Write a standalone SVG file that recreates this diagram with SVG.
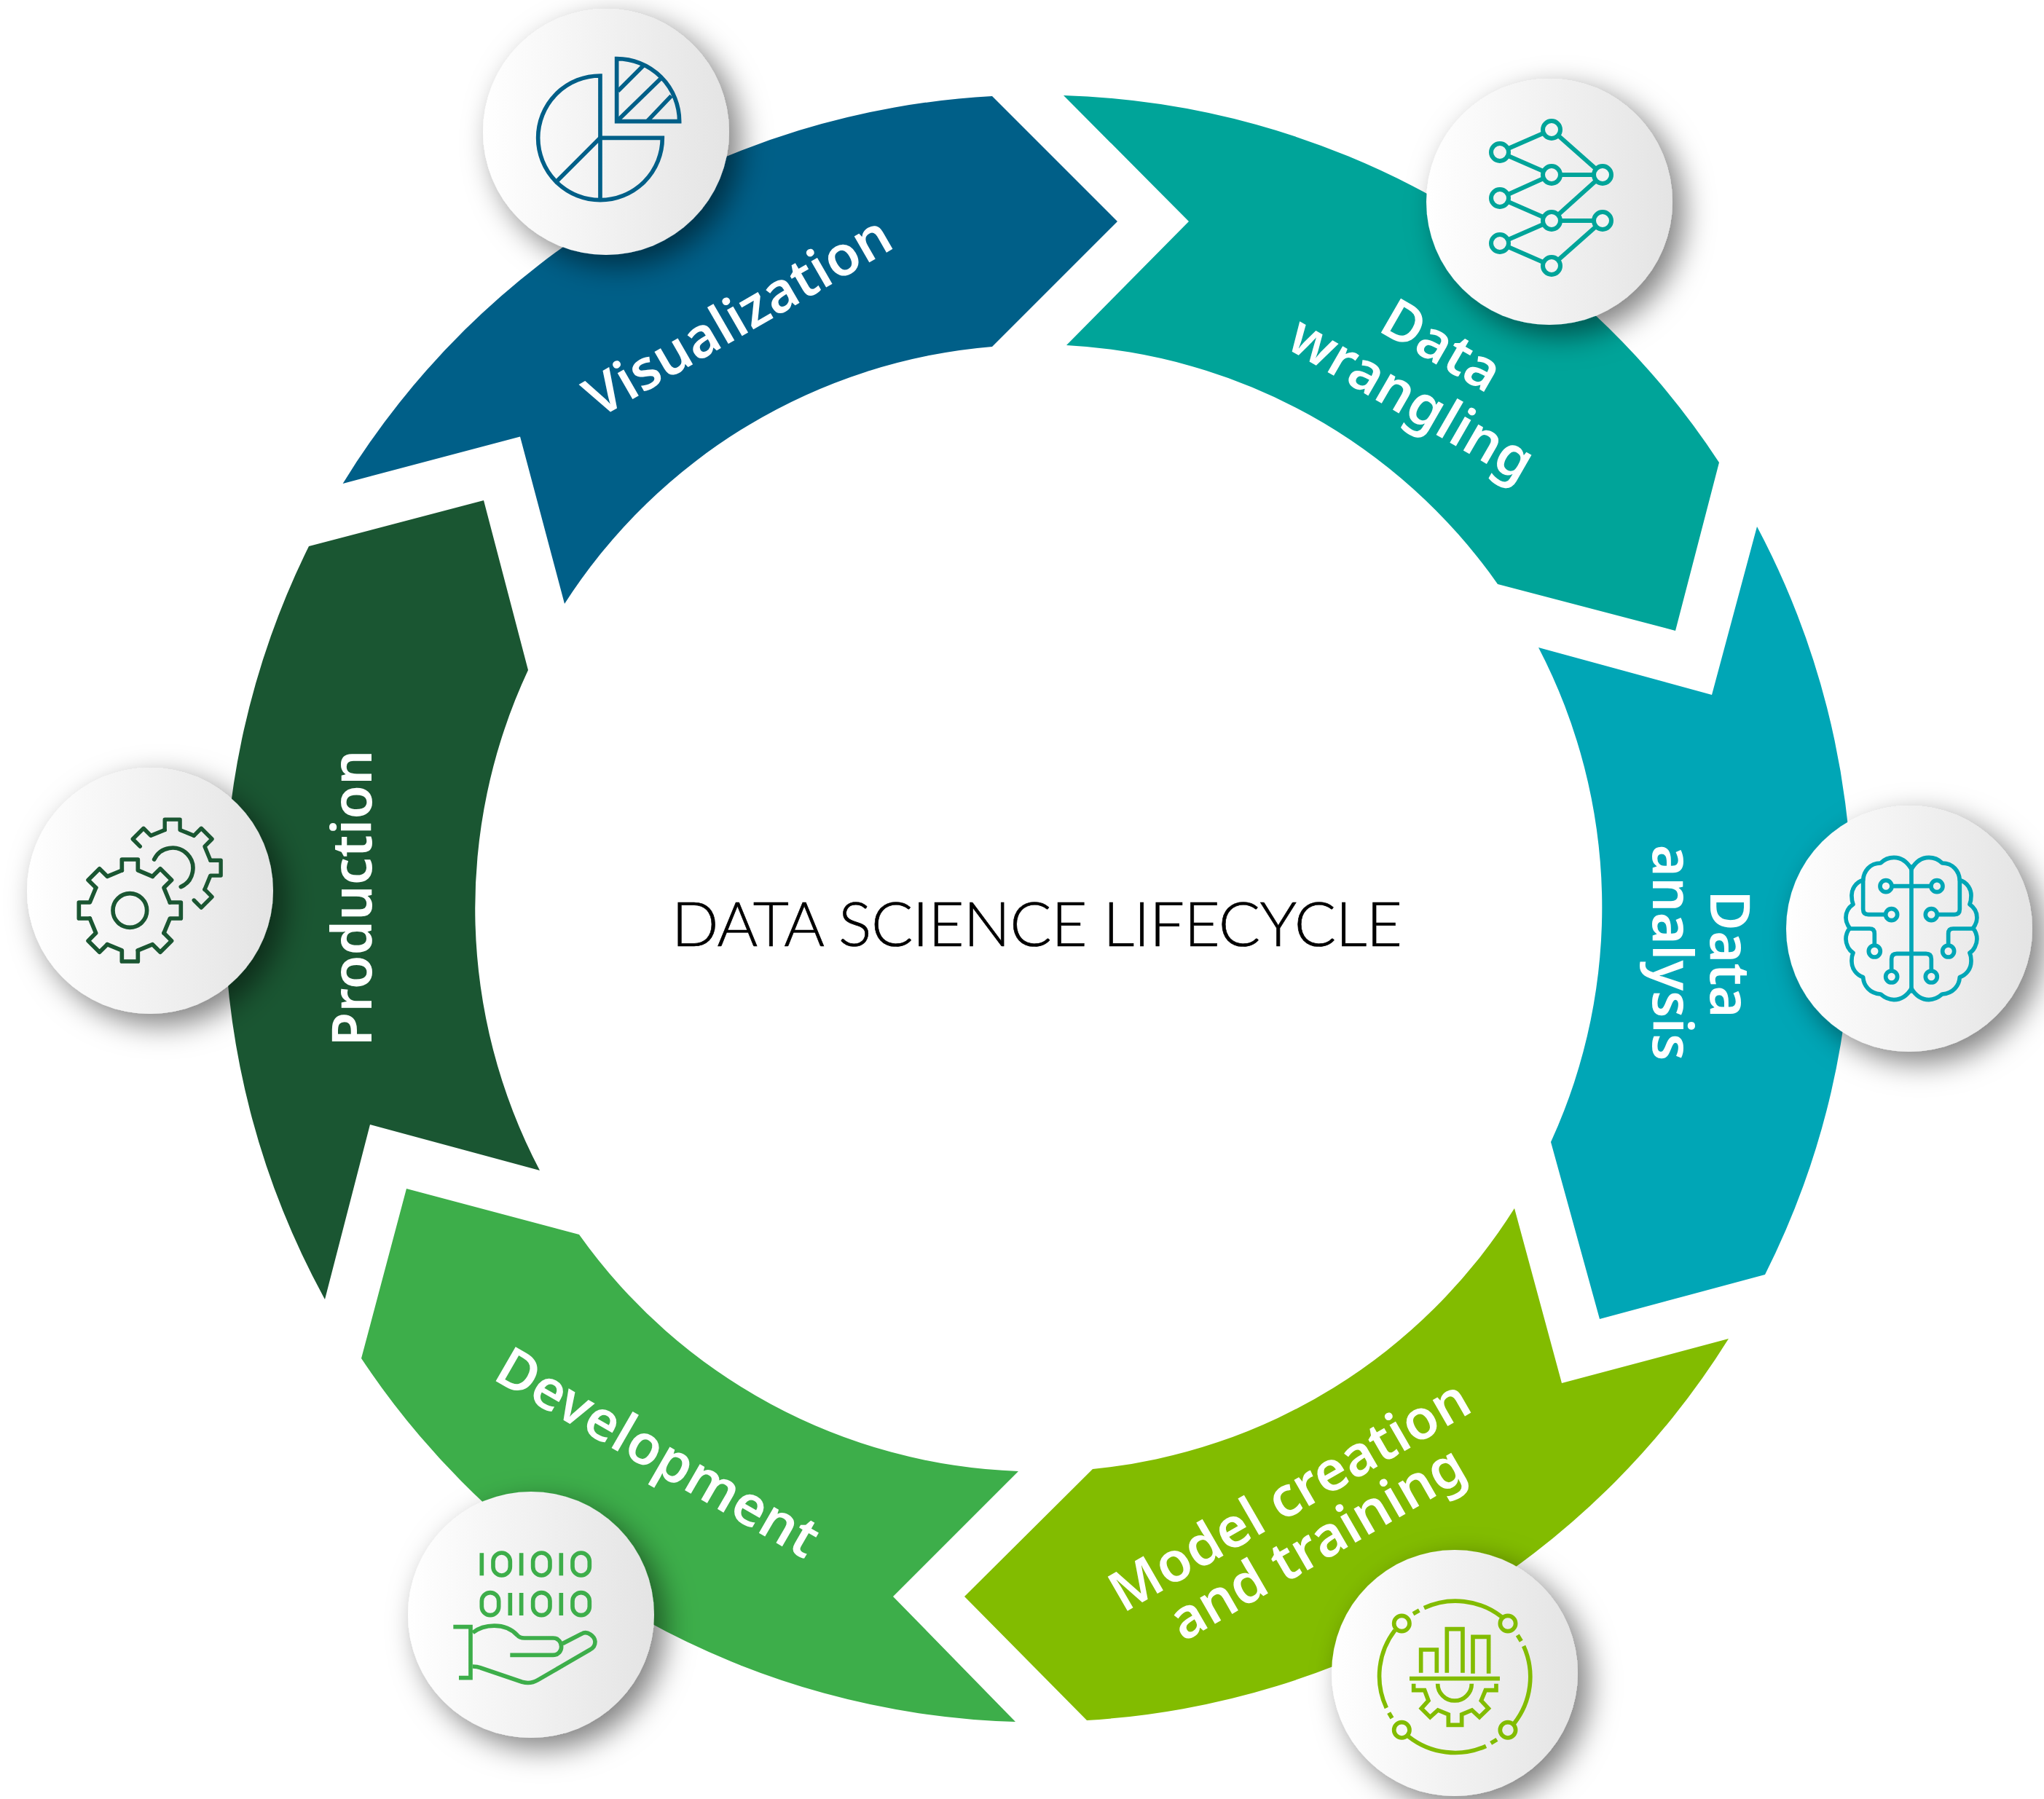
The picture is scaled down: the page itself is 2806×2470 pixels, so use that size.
<svg xmlns="http://www.w3.org/2000/svg" xmlns:xlink="http://www.w3.org/1999/xlink" width="2806" height="2470" viewBox="0 0 2806 2470">
<style>
text{font-family:"Noto Sans","Lato",sans-serif}
.lb{font-size:76px;font-weight:600;fill:#fff;text-anchor:middle}
.title{font-family:"Lato","Noto Sans",sans-serif;font-size:85px;font-weight:300;fill:#000;stroke:#000;stroke-width:.7;letter-spacing:-.65px}
.disc{fill:url(#disc);filter:url(#sh)}
.ic{fill:none;stroke-width:17}
.sl{stroke-linejoin:round;stroke-linecap:round}
</style>
<defs>
<linearGradient id="disc" x1="0" x2="1" y1="0" y2="0"><stop offset="0" stop-color="#fff"/><stop offset="1" stop-color="#e4e4e4"/></linearGradient>
<filter id="sh" x="-30%" y="-30%" width="160%" height="160%"><feDropShadow dx="15" dy="15" stdDeviation="20" flood-color="#000" flood-opacity=".5"/></filter>
<path id="tooth" d="M-33,-165V-210H33V-165"/>
<path id="seg" d="M-33,-165V-210H33V-165L93.3,-140"/>
</defs>
<rect width="2806" height="2470" fill="#fff"/>

<g id="visualization">
<path fill="#005f88" d="M470.6,664A1117,1117 0 0 1 1362,132L1534,304L1362,476A773,773 0 0 0 775,829L714,599.5Z"/>
<circle class="disc" cx="832" cy="181" r="169"/>
<g class="ic" stroke="#005f88" transform="translate(640,0) scale(.3333)">
<path d="M552,568V312A256,256 0 1 0 808,568Z"/>
<path d="M552,568V825M552,568L375,745"/>
<path d="M620,500V242A258,258 0 0 1 878,500Z"/>
<path d="M625,375L730,270M625,495L800,325M745,500L845,395"/>
</g>
<text class="lb" transform="translate(1026,457) rotate(-30)">Visualization</text>
</g>

<g id="data-wrangling">
<path fill="#00a499" d="M1460,131A1117,1117 0 0 1 2360,635L2300,866L2056,802A773,773 0 0 0 1464,474L1632,304Z"/>
<circle class="disc" cx="2127" cy="277" r="169"/>
<g stroke="#00a499" stroke-width="6" fill="#f3f3f3">
<path d="M2059,209L2130,178M2059,209L2130,240M2059,272L2130,240M2059,272L2130,303M2059,334L2130,303M2059,334L2130,365M2130,178L2200,240M2130,240H2200M2130,303L2200,240M2130,303H2200M2130,365L2200,303"/>
<circle cx="2059" cy="209" r="12"/><circle cx="2059" cy="272" r="12"/><circle cx="2059" cy="334" r="12"/>
<circle cx="2130" cy="178" r="12"/><circle cx="2130" cy="240" r="12"/><circle cx="2130" cy="303" r="12"/><circle cx="2130" cy="365" r="12"/>
<circle cx="2200" cy="240" r="12"/><circle cx="2200" cy="303" r="12"/>
</g>
<text class="lb" transform="translate(1966,497) rotate(30)">Data</text>
<text class="lb" transform="translate(1925,570) rotate(30)">wrangling</text>
</g>

<g id="data-analysis">
<path fill="#00a6b6" d="M2412,723A1117,1117 0 0 1 2423,1750L2196,1811L2129,1568A773,773 0 0 0 2112,889L2350,954Z"/>
<circle class="disc" cx="2621" cy="1275" r="169"/>
<g class="ic sl" stroke="#00a6b6" transform="translate(2430,1090) scale(.3333)">
<path d="M582,300V812"/>
<g id="brain-half">
<path d="M582,310C565,280 540,262 510,262C490,262 470,270 455,285C410,285 385,320 383,355C350,365 335,395 336,420Q336,440 342,455C320,470 312,490 312,510C312,525 318,540 328,553C318,565 312,580 312,598C312,620 325,645 342,655C335,670 336,680 336,690C336,720 355,745 383,755C385,790 410,822 455,825C470,838 490,848 510,848C540,848 565,830 582,802"/>
<circle cx="477" cy="380" r="24"/><path d="M505,380H582"/>
<circle cx="500" cy="497" r="24"/><path d="M472,497H405Q383,497 383,475V355"/>
<circle cx="430" cy="648" r="24"/><path d="M430,620V575Q430,555 410,555H328"/>
<circle cx="500" cy="753" r="24"/><path d="M500,725V680Q500,658 522,658H582"/>
</g>
<use xlink:href="#brain-half" href="#brain-half" transform="translate(1164,0) scale(-1,1)"/>
</g>
<text class="lb" transform="translate(2348,1310) rotate(90)">Data</text>
<text class="lb" transform="translate(2269,1308) rotate(90)">analysis</text>
</g>

<g id="model-creation">
<path fill="#82bc00" d="M2373,1838A1117,1117 0 0 1 1492,2362L1324,2192L1500,2017A773,773 0 0 0 2079,1659L2144,1899Z"/>
<circle class="disc" cx="1997" cy="2297" r="169"/>
<g class="ic" stroke="#82bc00" transform="translate(1810,2110) scale(.3333)">
<path d="M435,293A309,309 0 0 1 755,330M845,450A309,309 0 0 1 805,770M690,862A309,309 0 0 1 370,822M280,705A309,309 0 0 1 315,385"/>
<path d="M390,317L415,303M820,405L835,430M735,835L710,850M290,725L303,747"/>
<circle cx="343" cy="357" r="32"/><circle cx="780" cy="357" r="32"/><circle cx="343" cy="796" r="32"/><circle cx="780" cy="796" r="32"/>
<path d="M422,560V465H487V560M529,560V380H594V560M636,563V412H701V563M375,584H747"/>
<path d="M392,605V632H437L453,675L424,707L460,743L492,714L535,732V775H590V732L632,714L663,743L700,707L670,675L688,632H732V605M491,605A70,70 0 0 0 631,605"/>
</g>
<text class="lb" transform="translate(1783,2076) rotate(-30)">Model creation</text>
<text class="lb" transform="translate(1821,2141) rotate(-30)">and training</text>
</g>

<g id="development">
<path fill="#3dae4a" d="M1394,2364A1117,1117 0 0 1 496,1865L558,1632L795,1695A773,773 0 0 0 1398,2020L1226,2192Z"/>
<circle class="disc" cx="729" cy="2217" r="169"/>
<g class="ic sl" stroke="#3dae4a" transform="translate(550,2030) scale(.3333)">
<g stroke-linecap="butt">
<path d="M334,307V400M497,307V400M661,307V400M451,471V564M497,471V564M661,471V564"/>
<rect x="381" y="306" width="70" height="93" rx="35"/><rect x="545" y="306" width="70" height="93" rx="35"/><rect x="708" y="306" width="70" height="93" rx="35"/>
<rect x="334" y="470" width="70" height="93" rx="35"/><rect x="545" y="470" width="70" height="93" rx="35"/><rect x="708" y="470" width="70" height="93" rx="35"/>
<path stroke-linejoin="miter" d="M217,611H288V821H240"/>
<path d="M297,635C340,600 430,590 480,645Q490,657 510,657H628C650,657 662,675 662,693C662,710 650,727 628,727H451"/>
<path d="M667,680L745,640C770,625 800,650 801,672C801,690 790,700 780,705L565,830C545,842 525,845 500,838L330,780C320,776 310,774 297,774"/>
</g>
</g>
<text class="lb" transform="translate(890,2017) rotate(30)">Development</text>
</g>

<g id="production">
<path fill="#1a5632" d="M446,1784A1117,1117 0 0 1 424,750L664,687L725,920A773,773 0 0 0 741,1607L508,1544Z"/>
<circle class="disc" cx="206" cy="1223" r="169"/>
<g class="ic sl" stroke="#1a5632" transform="translate(30,1040) scale(.3333)">
<g transform="translate(445,630)">
<use href="#seg"/><use href="#seg" transform="rotate(45)"/><use href="#seg" transform="rotate(90)"/><use href="#seg" transform="rotate(135)"/><use href="#seg" transform="rotate(180)"/><use href="#seg" transform="rotate(225)"/><use href="#seg" transform="rotate(270)"/><use href="#seg" transform="rotate(315)"/>
<circle r="70"/>
</g>
<g transform="translate(620,455) scale(.95)">
<use href="#seg" transform="rotate(-45)"/><use href="#seg"/><use href="#seg" transform="rotate(45)"/><use href="#seg" transform="rotate(90)"/><use href="#tooth" transform="rotate(135)"/>
</g>
<path d="M545,420A84,84 0 1 1 655,533"/>
</g>
<text class="lb" transform="translate(510,1233) rotate(-90)">Production</text>
</g>

<text id="title" class="title" x="922" y="1299">DATA SCIENCE LIFECYCLE</text>
</svg>
